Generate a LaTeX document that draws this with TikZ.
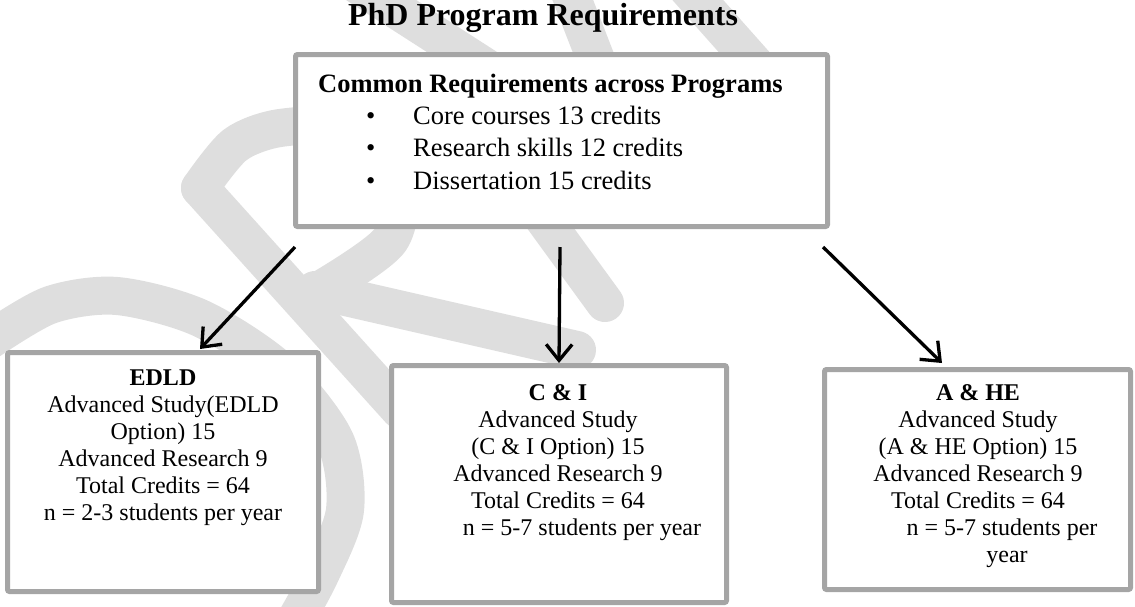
\documentclass[tikz,border=0pt]{standalone}
\usepackage{fontspec}
\setmainfont{Liberation Serif}
\usetikzlibrary{arrows.meta}

\definecolor{boxgray}{HTML}{A5A5A5}
\definecolor{wmgray}{HTML}{DEDEDE}

\newcommand{\reqbullet}{\makebox[47pt][l]{\textbullet}}

\tikzset{
  prgbox/.style={draw=boxgray, line width=5pt, fill=white, rounded corners=2pt, inner sep=0pt},
  boxtext/.style={align=center, inner sep=0pt, anchor=north, font=\fontsize{24}{27}\selectfont},
  reqtext/.style={inner sep=0pt, anchor=base west, font=\fontsize{26.5}{32}\selectfont},
  arr/.style={line width=3.3pt, -{Straight Barb[length=16pt, width=26pt, line width=3.3pt]}},
  wm/.style={wmgray, line width=38pt, line cap=round, line join=round}
}

\begin{document}
\begin{tikzpicture}[x=1pt, y=-1pt]
\useasboundingbox (0,0) rectangle (1135,606);

%% DRAFT watermark, behind the boxes
\begin{scope}
\clip (0,0) rectangle (1135,606);
\draw[wm] plot[smooth] coordinates {(-10,340) (50,305) (117,296) (200,318) (280,370) (335,440) (345,510) (320,575) (290,630)};
\draw[wm] (200,188) -- (400,410);
\draw[wm] plot[smooth] coordinates {(200,188) (235,145) (280,128) (340,130) (395,180) (390,240) (320,290)};
\draw[wm] (315,290) -- (577,350);
\draw[wm] (530,200) -- (605,303);
\draw[wm] (350,-20) -- (490,70);
\draw[wm] (565,-20) -- (600,70);
\draw[wm] (680,-20) -- (760,70);
\end{scope}

%% Title
\node[anchor=base, font=\bfseries\fontsize{32}{36}\selectfont] (title) at (543,25) {PhD Program Requirements};

%% Common requirements
\node[prgbox, minimum width=532pt, minimum height=172pt] (req) at (561.5,140.5) {};
\node[reqtext, font=\bfseries\fontsize{26.5}{32}\selectfont] (reqhead) at (318,92) {Common Requirements across Programs};
\node[reqtext] (core) at (366,124) {\reqbullet Core courses 13 credits};
\node[reqtext] (skills) at (366,156) {\reqbullet Research skills 12 credits};
\node[reqtext] (diss) at (366,189) {\reqbullet Dissertation 15 credits};

%% Program boxes
\node[prgbox, minimum width=311pt, minimum height=239pt] (edld) at (163,472) {};
\node[prgbox, minimum width=335pt, minimum height=237pt] (ci) at (559,484) {};
\node[prgbox, minimum width=306pt, minimum height=220pt] (ahe) at (977.5,479.5) {};

\node[boxtext] (edldtxt) at (163,370)
  {\textbf{EDLD}\\Advanced Study(EDLD\\Option) 15\\Advanced Research 9\\Total Credits = 64\\n = 2-3 students per year};
\node[boxtext] (citxt) at (558,384)
  {\textbf{C \& I}\\Advanced Study\\(C \& I Option) 15\\Advanced Research 9\\Total Credits = 64\\\hspace*{48pt}n = 5-7 students per year};
\node[boxtext] (ahetxt) at (978,384)
  {\textbf{A \& HE}\\Advanced Study\\(A \& HE Option) 15\\Advanced Research 9\\Total Credits = 64\\\hspace*{48pt}n = 5-7 students per\\\hspace*{58pt}year};

%% Arrows
\coordinate (s1) at (295,247);
\coordinate (s2) at (560,247);
\coordinate (s3) at (823,247);
\draw[arr] (s1) -- ([xshift=37pt, yshift=1pt]edld.north);
\draw[arr] (s2) -- (ci.north);
\draw[arr] (s3) -- ([xshift=-35.5pt, yshift=4pt]ahe.north);

\end{tikzpicture}
\end{document}
